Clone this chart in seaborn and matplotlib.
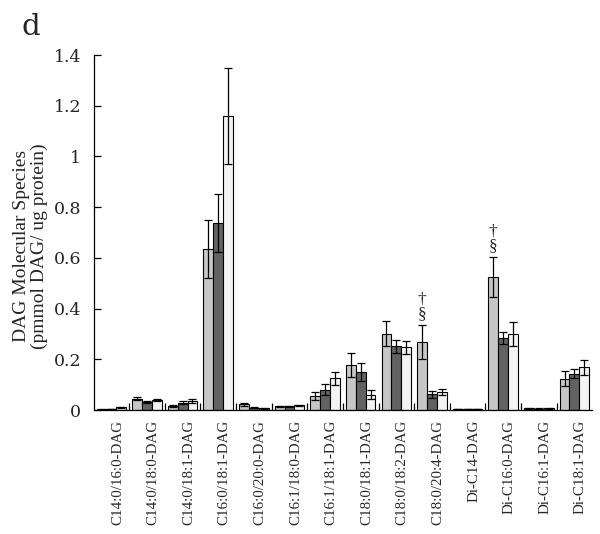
import matplotlib
matplotlib.use("Agg")
import matplotlib.pyplot as plt
import matplotlib.transforms as mtransforms
import numpy as np
import pandas as pd
import seaborn as sns

categories = ["C14:0/16:0-DAG", "C14:0/18:0-DAG", "C14:0/18:1-DAG", "C16:0/18:1-DAG",
              "C16:0/20:0-DAG", "C16:1/18:0-DAG", "C16:1/18:1-DAG", "C18:0/18:1-DAG",
              "C18:0/18:2-DAG", "C18:0/20:4-DAG", "Di-C14-DAG", "Di-C16:0-DAG",
              "Di-C16:1-DAG", "Di-C18:1-DAG"]
series = ["Series 1", "Series 2", "Series 3"]
values_1 = [0.004, 0.044, 0.017, 0.636, 0.023, 0.016, 0.055, 0.178, 0.302, 0.268, 0.004, 0.524, 0.008, 0.124]
values_2 = [0.004, 0.033, 0.029, 0.738, 0.010, 0.016, 0.080, 0.150, 0.252, 0.062, 0.005, 0.284, 0.006, 0.143]
values_3 = [0.011, 0.040, 0.037, 1.160, 0.007, 0.019, 0.126, 0.060, 0.247, 0.072, 0.005, 0.300, 0.007, 0.168]
errors_1 = [0.002, 0.006, 0.003, 0.115, 0.007, 0.002, 0.016, 0.048, 0.050, 0.067, 0.001, 0.080, 0.002, 0.030]
errors_2 = [0.001, 0.003, 0.006, 0.115, 0.003, 0.002, 0.021, 0.035, 0.026, 0.015, 0.001, 0.025, 0.001, 0.018]
errors_3 = [0.002, 0.003, 0.007, 0.190, 0.002, 0.002, 0.026, 0.018, 0.026, 0.012, 0.001, 0.046, 0.001, 0.028]
annot_cats = ["C18:0/20:4-DAG", "Di-C16:0-DAG"]
annot_text = ["\u2020\n\u00a7", "\u2020\n\u00a7"]
colors = ["#c6c6c6", "#626262", "#f3f3f3"]
ytick_vals = [0, 0.2, 0.4, 0.6, 0.8, 1.0, 1.2, 1.4]
ytick_labels = ["0", "0.2", "0.4", "0.6", "0.8", "1", "1.2", "1.4"]

vals = [values_1, values_2, values_3]
errs = [errors_1, errors_2, errors_3]
df = pd.DataFrame({
    "cat": np.repeat([categories], 3, axis=0).ravel(),
    "series": np.repeat(series, len(categories)),
    "val": np.concatenate(vals),
    "err": np.concatenate(errs),
})

sns.set_style("white")
plt.rcParams["font.family"] = ["Liberation Serif", "DejaVu Serif"]

fig = plt.figure(figsize=(6, 5.34), dpi=100)
ax = fig.add_axes([0.156, 0.232, 0.831, 0.665])
sns.barplot(data=df, x="cat", y="val", hue="series", order=categories,
            hue_order=series, palette=colors, width=0.83, errorbar=None,
            edgecolor="black", linewidth=0.8, legend=False, ax=ax)

# error bars at the bar centres
n = len(categories)
bars = [p for p in ax.patches if p.get_width() > 0][:3 * n]
for k in range(3):
    xs = [bars[k * n + i].get_x() + bars[k * n + i].get_width() / 2 for i in range(n)]
    ax.errorbar(xs, vals[k], yerr=errs[k], fmt="none", ecolor="black",
                elinewidth=0.9, capsize=2.6, capthick=0.9)

# significance symbols above first-series bars
for cat, txt in zip(annot_cats, annot_text):
    i = categories.index(cat)
    b = bars[i]
    xc = b.get_x() + b.get_width() / 2
    ax.text(xc, values_1[i] + errors_1[i] + 0.012, txt, ha="center", va="bottom",
            fontsize=12.5, linespacing=0.9)

ax.set_xlim(-0.5, n - 0.5)
ax.set_ylim(0, 1.4)
ax.set_yticks(ytick_vals)
ax.set_yticklabels(ytick_labels, fontsize=12.5, family=["DejaVu Serif"])
ax.set_xticks(range(n))
ax.set_xticklabels(categories, rotation=90, fontsize=10.8, va="top", ha="center")
ax.set_xticks(np.arange(0.5, n - 1, 1.0), minor=True)
ax.tick_params(axis="x", which="major", length=0, pad=7)
ax.tick_params(axis="x", which="minor", direction="in", length=5, width=0.9, color="black", bottom=True)
ax.tick_params(axis="y", direction="in", length=5, width=0.9, color="black", pad=9, left=True)
offset = mtransforms.ScaledTranslation(6 / 100, 0, fig.dpi_scale_trans)
for lab in ax.get_xticklabels():
    lab.set_transform(lab.get_transform() + offset)

for s in ["top", "right"]:
    ax.spines[s].set_visible(False)
for s in ["left", "bottom"]:
    ax.spines[s].set_color("black")
    ax.spines[s].set_linewidth(0.9)

ax.set_xlabel("")
ax.set_ylabel("DAG Molecular Species\n(pmmol DAG/ ug protein)", fontsize=14, linespacing=1.0)
ax.yaxis.set_label_coords(-0.092, 0.462)

fig.text(0.036, 0.935, "d", fontsize=21, family=["DejaVu Serif"])

fig.savefig("out.png", dpi=100)
